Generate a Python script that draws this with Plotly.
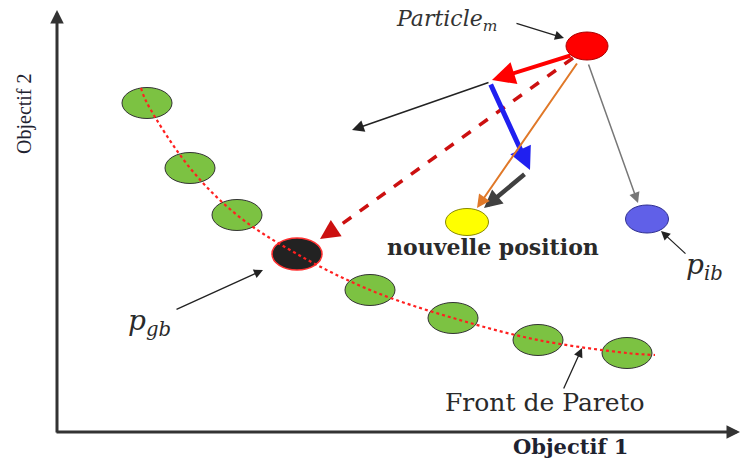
import plotly.graph_objects as go

# ---- data (diagram coordinates, pixel-like units; y grows downward) ----
front_x = [147, 190, 237, 370, 453, 538, 627]
front_y = [103, 168, 215, 290, 318, 340, 353]
curve_x = [141, 147, 190, 237, 297, 370, 453, 538, 627, 655]
curve_y = [88, 103, 168, 215, 254, 290, 318, 340, 353, 355]
gbest = (297, 254)
particle = (587, 46)
new_pos = (467, 222)
pbest = (647, 219)

fig = go.Figure()

SERIF = "DejaVu Serif, serif"
TIMES = "Liberation Serif, Times New Roman, serif"

def ellipse(c, w, h, fill, line="#333333", lw=1):
    fig.add_shape(type="circle", xref="x", yref="y",
                  x0=c[0] - w / 2, x1=c[0] + w / 2, y0=c[1] - h / 2, y1=c[1] + h / 2,
                  fillcolor=fill, line=dict(color=line, width=lw), layer="below")

for x, y in zip(front_x, front_y):
    ellipse((x, y), 50, 31, "#7cc242")
ellipse(gbest, 50, 32, "#222222", line="#ff3030", lw=1.5)
ellipse(particle, 42, 28, "#ff0000", line="#aa0000")
ellipse(new_pos, 43, 27, "#ffff00", line="#888800")
ellipse(pbest, 43, 28, "#6060e8", line="#303090")

fig.add_trace(go.Scatter(x=curve_x, y=curve_y, mode="lines",
                         line=dict(color="#ff2020", width=2.2, dash="dot", shape="spline"),
                         hoverinfo="skip", showlegend=False))

def arrow(x0, y0, x1, y1, color, width, size=1.0, head=2):
    fig.add_annotation(x=x1, y=y1, ax=x0, ay=y0, xref="x", yref="y", axref="x", ayref="y",
                       showarrow=True, arrowhead=head, arrowsize=size, arrowwidth=width,
                       arrowcolor=color, text="")

# axes
arrow(57, 434, 57, 10, "#333333", 3, 0.9)
arrow(55, 432, 740, 432, "#333333", 3, 0.9)

# dashed red arrow particle -> gbest (line drawn as dashed trace + head)
fig.add_trace(go.Scatter(x=[573, 328], y=[58, 234], mode="lines",
                         line=dict(color="#cc1010", width=3.5, dash="dash"),
                         hoverinfo="skip", showlegend=False))
arrow(332, 231, 320, 239, "#cc1010", 3, 1.3)

# red velocity arrow
arrow(572, 55, 492, 80, "#ff0000", 4, 1.15)
# black inertia arrow
arrow(490, 82, 352, 130, "#222222", 1.5, 1.6)
# blue arrow
arrow(490, 83, 530, 170, "#2020f0", 5, 0.9)
# dark grey arrow
arrow(526, 173, 484, 208, "#404040", 4.5, 0.8)
# orange arrow particle -> new position
arrow(578, 62, 477, 208, "#e07828", 2, 1.3)
# grey arrow particle -> pbest
arrow(588, 63, 638, 203, "#777777", 1.5, 1.4)

# label arrows
arrow(515, 23, 564, 38, "#222222", 1.3, 1.4)
arrow(687, 255, 661, 231, "#222222", 1.3, 1.4)
arrow(175, 310, 263, 270, "#222222", 1.3, 1.4)
arrow(563, 390, 582, 348, "#222222", 1.3, 1.4)

def label(x, y, txt, size, bold=False, family=SERIF, angle=0, color="#2a2a2a"):
    if bold:
        txt = f"<b>{txt}</b>"
    fig.add_annotation(x=x, y=y, xref="x", yref="y", text=txt, showarrow=False,
                       textangle=angle, font=dict(family=family, size=size, color=color))

label(446, 20, "<i>Particle</i><sub><i>m</i></sub>", 22, color="#333333")
label(493, 247, "nouvelle position", 22, bold=True)
label(704, 266, "<i>p</i><sub><i>ib</i></sub>", 28)
label(149, 322, "<i>p</i><sub><i>gb</i></sub>", 28)
label(545, 402, "Front de Pareto", 25)
label(570, 446, "Objectif 1", 21, bold=True, color="#1e2230")
label(24, 114, "Objectif 2", 20, family=TIMES, angle=-90, color="#1e2230")

fig.update_layout(width=742, height=459, margin=dict(l=0, r=0, t=0, b=0),
                  plot_bgcolor="white", paper_bgcolor="white", showlegend=False,
                  xaxis=dict(range=[0, 742], visible=False, fixedrange=True),
                  yaxis=dict(range=[459, 0], visible=False, fixedrange=True))
fig.write_html("out.html", config={"displayModeBar": False},
               post_script="document.body.style.margin='0';document.body.style.overflow='hidden';")
